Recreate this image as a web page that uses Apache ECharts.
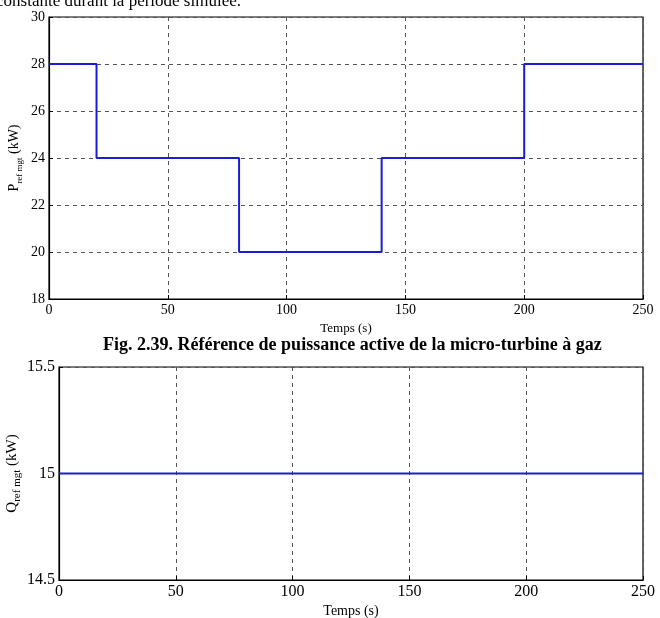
<!DOCTYPE html>
<html>
<head>
<meta charset="utf-8">
<script src="https://cdn.jsdelivr.net/npm/echarts@6/dist/echarts.min.js"></script>
<style>
  html, body { margin: 0; padding: 0; background: #fff; }
  #chart { width: 660px; height: 618px; }
</style>
</head>
<body>
<div id="chart"></div>
<script>
// données
var pTimes = [0, 20, 80, 140, 200, 250];
var pValues = [28, 24, 20, 24, 28, 28];
var qTimes = [0, 250];
var qValues = [15, 15];
var timeTicks = [0, 50, 100, 150, 200, 250];

var serif = '"Liberation Serif", "DejaVu Serif", serif';

function pairs(xs, ys) {
	var out = [];
	for (var i = 0; i < xs.length; i++) out.push([xs[i], ys[i]]);
	return out;
}

var gridLine = { show: true, lineStyle: { color: '#555', type: [4, 4], width: 1 } };
var axisLine = { show: true, onZero: false, lineStyle: { color: '#000', width: 1.2 } };
var tick = { show: true, inside: true, length: 4, lineStyle: { color: '#000' } };

var myChart = echarts.init(document.getElementById('chart'));
var option = {
	animation: false,
	backgroundColor: '#fff',
	graphic: [
		{
			type: 'text', left: -4, top: -7,
			style: { text: 'constante durant la période simulée.', font: '17px ' + serif, fill: '#000' }
		},
		{
			type: 'text', left: 103, top: 336,
			style: { text: 'Fig. 2.39. Référence de puissance active de la micro-turbine à gaz',
				font: 'bold 18px ' + serif, fill: '#000' }
		}
	],
	grid: [
		{ left: 49, top: 17, width: 594, height: 282, show: true, borderColor: '#000', borderWidth: 1.2,
			containLabel: false, outerBoundsMode: 'none' },
		{ left: 59, top: 367, width: 584, height: 213, show: true, borderColor: '#000', borderWidth: 1.2,
			containLabel: false, outerBoundsMode: 'none' }
	],
	xAxis: [
		{
			gridIndex: 0, type: 'value', min: 0, max: 250, interval: 50,
			name: 'Temps (s)', nameLocation: 'middle', nameGap: 23, nameMoveOverlap: false,
			nameTextStyle: { fontFamily: serif, fontSize: 13, color: '#000' },
			axisLine: axisLine, axisTick: tick, splitLine: gridLine,
			axisLabel: { fontFamily: serif, fontSize: 14, color: '#000', margin: 4 }
		},
		{
			gridIndex: 1, type: 'value', min: 0, max: 250, interval: 50,
			name: 'Temps (s)', nameLocation: 'middle', nameGap: 24, nameMoveOverlap: false,
			nameTextStyle: { fontFamily: serif, fontSize: 14, color: '#000' },
			axisLine: axisLine, axisTick: tick, splitLine: gridLine,
			axisLabel: { fontFamily: serif, fontSize: 16, color: '#000', margin: 4 }
		}
	],
	yAxis: [
		{
			gridIndex: 0, type: 'value', min: 18, max: 30, interval: 2,
			name: '{a|P}{b|ref mgt}{a| (kW)}', nameLocation: 'middle', nameGap: 25, nameRotate: 90,
			nameMoveOverlap: false,
			nameTextStyle: {
				color: '#000',
				rich: {
					a: { fontFamily: serif, fontSize: 14, lineHeight: 20, verticalAlign: 'middle', color: '#000' },
					b: { fontFamily: serif, fontSize: 9, lineHeight: 11, verticalAlign: 'bottom', color: '#000' }
				}
			},
			axisLine: axisLine, axisTick: tick, splitLine: gridLine,
			axisLabel: { fontFamily: serif, fontSize: 14, color: '#000', margin: 4 }
		},
		{
			gridIndex: 1, type: 'value', min: 14.5, max: 15.5, interval: 0.5,
			name: '{a|Q}{b|ref mgt}{a| (kW)}', nameLocation: 'middle', nameGap: 36, nameRotate: 90,
			nameMoveOverlap: false,
			nameTextStyle: {
				color: '#000',
				rich: {
					a: { fontFamily: serif, fontSize: 15, lineHeight: 22, verticalAlign: 'middle', color: '#000' },
					b: { fontFamily: serif, fontSize: 11, lineHeight: 12, verticalAlign: 'bottom', color: '#000' }
				}
			},
			axisLine: axisLine, axisTick: tick, splitLine: gridLine,
			axisLabel: { fontFamily: serif, fontSize: 16, color: '#000', margin: 4 }
		}
	],
	series: [
		{
			type: 'line', xAxisIndex: 0, yAxisIndex: 0, step: 'end',
			data: pairs(pTimes, pValues), showSymbol: false,
			lineStyle: { color: '#1c1cd6', width: 2 }
		},
		{
			type: 'line', xAxisIndex: 1, yAxisIndex: 1,
			data: pairs(qTimes, qValues), showSymbol: false,
			lineStyle: { color: '#1c1cd6', width: 2 }
		}
	]
};
myChart.setOption(option);
</script>
</body>
</html>
